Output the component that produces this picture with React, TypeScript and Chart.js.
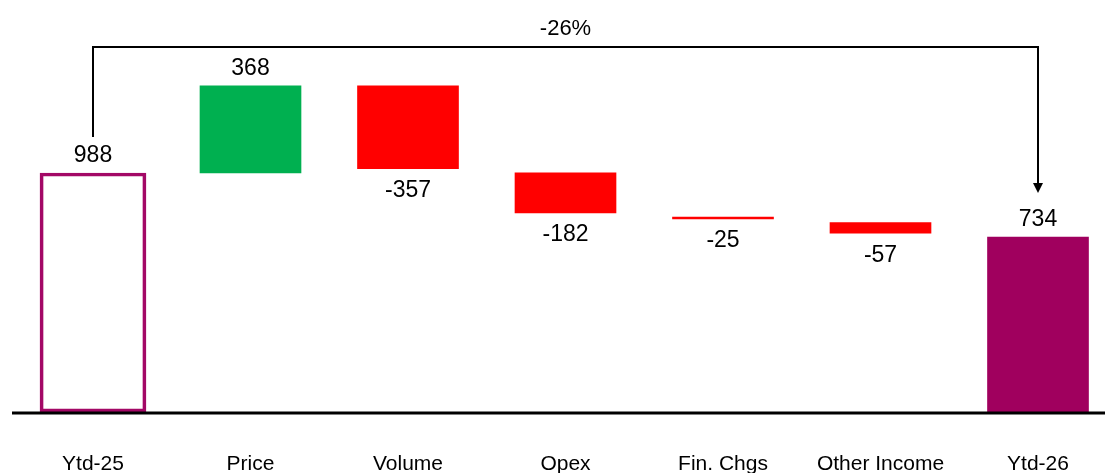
import React, { useEffect, useRef } from 'react';
import { Chart, registerables } from 'chart.js';

Chart.register(...registerables);

// ---- data ----
const categories = ['Ytd-25', 'Price', 'Volume', 'Opex', 'Fin. Chgs', 'Other Income', 'Ytd-26'];
const valueLabels = ['988', '368', '-357', '-182', '-25', '-57', '734'];
const barStart = [0, 988, 1348, 989, 806, 783, 0];
const barEnd = [988, 1348, 1006, 823, 798, 739, 723];
const kinds = ['open', 'up', 'down', 'down', 'down', 'down', 'total'];
const changeLabel = '-26%';

const PURPLE = '#a0005e';
const GREEN = '#00b050';
const RED = '#ff0000';
const FONT = '"Liberation Sans", Arial, sans-serif';

const colorFor = (k: string) => (k === 'up' ? GREEN : k === 'down' ? RED : PURPLE);

const overlay = {
  id: 'overlay',
  afterDatasetsDraw(chart: any) {
    const { ctx } = chart;
    const x = chart.scales.x;
    const y = chart.scales.y;
    ctx.save();

    // baseline axis
    const y0 = y.getPixelForValue(0);
    ctx.strokeStyle = '#000';
    ctx.lineWidth = 3;
    ctx.beginPath();
    ctx.moveTo(12, y0 + 1);
    ctx.lineTo(chart.width, y0 + 1);
    ctx.stroke();

    // category labels
    ctx.fillStyle = '#000';
    ctx.textAlign = 'center';
    ctx.textBaseline = 'alphabetic';
    ctx.font = `21px ${FONT}`;
    categories.forEach((c, i) => {
      ctx.fillText(c, x.getPixelForValue(i), y0 + 58);
    });

    // value labels
    ctx.font = `23px ${FONT}`;
    valueLabels.forEach((lab, i) => {
      const hi = Math.max(barStart[i], barEnd[i]);
      const lo = Math.min(barStart[i], barEnd[i]);
      const px = x.getPixelForValue(i);
      if (kinds[i] === 'down') {
        ctx.fillText(lab, px, y.getPixelForValue(lo) + 28.5);
      } else {
        ctx.fillText(lab, px, y.getPixelForValue(hi) - 11);
      }
    });

    // connector arrow
    const last = categories.length - 1;
    const lx = x.getPixelForValue(0);
    const rx = x.getPixelForValue(last);
    const peak = Math.max(...barStart, ...barEnd);
    const topY = y.getPixelForValue(peak) - 39;
    const leftBottom = y.getPixelForValue(barEnd[0]) - 36;
    const tip = y.getPixelForValue(Math.max(barStart[last], barEnd[last])) - 44;
    ctx.lineWidth = 2;
    ctx.beginPath();
    ctx.moveTo(lx, leftBottom);
    ctx.lineTo(lx, topY);
    ctx.lineTo(rx, topY);
    ctx.lineTo(rx, tip - 8);
    ctx.stroke();
    ctx.beginPath();
    ctx.moveTo(rx - 5, tip - 10);
    ctx.lineTo(rx + 5, tip - 10);
    ctx.lineTo(rx, tip);
    ctx.closePath();
    ctx.fill();

    ctx.font = `22px ${FONT}`;
    ctx.fillText(changeLabel, (lx + rx) / 2, topY - 12);

    ctx.restore();
  },
};

export default function App() {
  const ref = useRef<HTMLCanvasElement | null>(null);

  useEffect(() => {
    if (!ref.current) return;
    const openIdx = kinds.map((k, i) => (k === 'open' ? i : -1)).filter((i) => i >= 0);
    const fillIdx = kinds.map((k, i) => (k !== 'open' ? i : -1)).filter((i) => i >= 0);
    const spacing = 157.5;
    const firstCenter = 93;
    const chart = new Chart(ref.current, {
      type: 'bar',
      data: {
        datasets: [
          {
            data: openIdx.map((i) => ({ x: i, y: [barStart[i], barEnd[i]] })) as any,
            backgroundColor: 'rgba(255,255,255,0)',
            borderColor: '#a30866',
            borderWidth: 3,
            borderSkipped: false,
            barThickness: 106,
            grouped: false,
          },
          {
            data: fillIdx.map((i) => ({ x: i, y: [barStart[i], barEnd[i]] })) as any,
            backgroundColor: fillIdx.map((i) => colorFor(kinds[i])),
            borderWidth: 0,
            barThickness: 101,
            grouped: false,
          },
        ],
      },
      options: {
        animation: false,
        responsive: false,
        layout: { padding: { left: 0, right: 0, top: 0, bottom: 61 } },
        scales: {
          x: {
            type: 'linear',
            offset: false,
            bounds: 'ticks',
            min: -firstCenter / spacing,
            max: -firstCenter / spacing + 1105 / spacing,
            display: false,
          },
          y: { min: 0, max: 1703, display: false },
        },
        plugins: { legend: { display: false }, tooltip: { enabled: false } },
      },
      plugins: [overlay],
    });
    return () => chart.destroy();
  }, []);

  return (
    <>
      <style>{'body{margin:0;overflow:hidden;background:#fff}'}</style>
      <canvas ref={ref} width={1105} height={473} style={{ display: 'block' }} />
    </>
  );
}
